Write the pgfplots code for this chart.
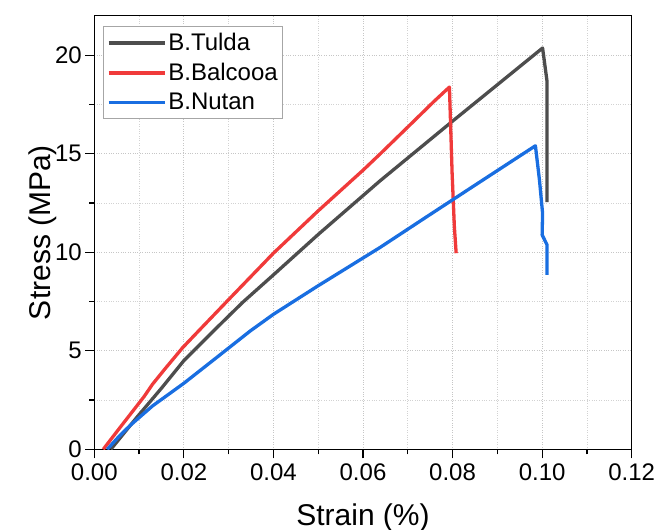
\documentclass[border=0pt]{standalone}
\usepackage{pgfplots}
\pgfplotsset{compat=1.18}
\usepackage{fontspec}
\setmainfont{Liberation Sans}
\definecolor{cgray}{RGB}{77,77,77}
\definecolor{cred}{RGB}{240,58,58}
\definecolor{cblue}{RGB}{25,110,225}
\begin{document}
\begin{tikzpicture}
\path[use as bounding box] (0,0) rectangle (657bp,530bp);
\begin{axis}[
  at={(94.3bp,80.7bp)}, anchor=south west,
  scale only axis, width=537.4bp, height=433.6bp,
  xmin=0, xmax=0.12, ymin=0, ymax=22,
  xtick={0,0.02,...,0.12}, ytick={0,5,10,15,20},
  minor x tick num=1, minor y tick num=1,
  xtick pos=bottom, ytick pos=left,
  tick align=outside,
  major tick length=9bp, minor tick length=5bp,
  every tick/.style={black, line width=1.2bp},
  axis line style={line width=1.5bp, black},
  grid=both,
  major grid style={dotted, gray!45, line width=0.8bp},
  minor grid style={dotted, gray!35, line width=0.8bp},
  /pgf/number format/assume math mode=true,
  xticklabel style={yshift=-2bp, /pgf/number format/.cd, fixed, fixed zerofill, precision=2},
  scaled x ticks=false,
  tick label style={font=\fontsize{24bp}{28bp}\selectfont},
  xlabel={Strain (\%)}, ylabel={Stress (MPa)},
  label style={font=\fontsize{30bp}{34bp}\selectfont},
  xlabel style={at={(axis description cs:0.5,-0.1746)}, anchor=base},
  ylabel style={at={(axis description cs:-0.0824,0.5)}, anchor=base},
  legend style={at={(axis description cs:0.0168,0.976)}, anchor=north west,
    draw=gray!70, line width=1bp, fill=white,
    font=\fontsize{24bp}{28bp}\selectfont, row sep=7bp,
    inner xsep=3bp, inner ysep=5bp,
    nodes={inner sep=2bp}},
  legend cell align=left,
  legend image code/.code={\draw[#1, line width=3.5bp] (0bp,0bp) -- (56bp,0bp);},
  every axis plot/.append style={line width=3.3bp, line join=round},
]
\addplot[cgray] coordinates {
(0.0037,0) (0.0096,1.65) (0.0150,3.1) (0.0200,4.5) (0.0266,6.0) (0.0331,7.45)
(0.0400,8.85) (0.0500,10.9) (0.0638,13.62) (0.0800,16.65) (0.1001,20.36)
(0.1011,18.66) (0.1011,12.54)
};
\addlegendentry{B.Tulda}
\addplot[cred] coordinates {
(0.0020,0) (0.0060,1.18) (0.0111,2.67) (0.0130,3.3) (0.0156,4.03)
(0.0197,5.15) (0.0236,6.08) (0.0301,7.62) (0.0400,9.95) (0.0500,12.1)
(0.0601,14.18) (0.0638,14.98) (0.0700,16.35) (0.0758,17.64) (0.0793,18.38)
(0.0799,14.0) (0.0804,11.3) (0.0808,9.95)
};
\addlegendentry{B.Balcooa}
\addplot[cblue] coordinates {
(0.0029,0) (0.0055,0.65) (0.0081,1.23) (0.0130,2.2) (0.0200,3.35) (0.0270,4.6)
(0.0348,6.0) (0.0400,6.85) (0.0500,8.3) (0.0638,10.24) (0.0743,11.81)
(0.0850,13.4) (0.0985,15.40) (0.0994,13.67) (0.1001,11.98) (0.1000,10.88)
(0.1011,10.37) (0.1011,8.85)
};
\addlegendentry{B.Nutan}
\end{axis}
\end{tikzpicture}
\end{document}
